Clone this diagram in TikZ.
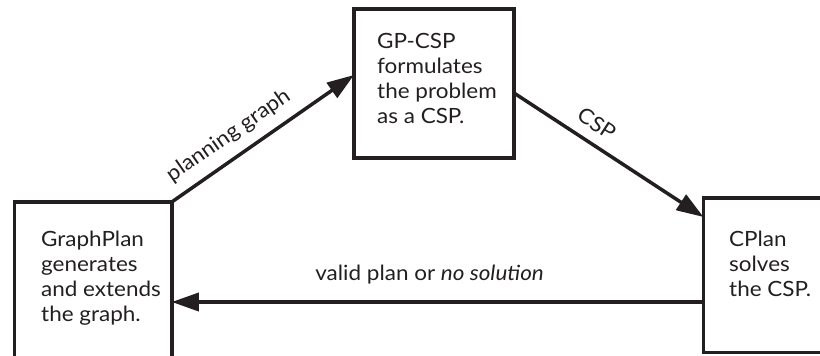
\documentclass[tikz,border=0pt]{standalone}
\usepackage{fontspec}
\setmainfont{Lato}[FakeStretch=1.07]
\usetikzlibrary{arrows.meta,calc}
\definecolor{ink}{HTML}{231F20}
\begin{document}
\begin{tikzpicture}[x=1pt,y=-1pt,
  box/.style={draw=ink, line width=3.5pt, inner sep=0pt, outer sep=0pt, anchor=north west},
  boxtext/.style={anchor=base west, align=left, inner sep=0pt, text=ink,
    font=\fontsize{21}{25}\selectfont},
  flow/.style={draw=ink, line width=3.5pt, -{Triangle[length=27pt,width=18pt]}},
  lbl/.style={text=ink, inner sep=0pt, font=\fontsize{21}{25}\selectfont}]
\useasboundingbox (0,0) rectangle (820,356);
\clip (0,0) rectangle (820,356);

% the three stages
\node[box, minimum width=157.5pt, minimum height=180pt] (gp)  at (14.25,202) {};
\node[box, minimum width=160pt,   minimum height=149pt] (csp) at (354,9) {};
\node[box, minimum width=150pt,   minimum height=154.5pt] (cp) at (703.5,198) {};

% texts are anchored at the baseline of their last line
\node[boxtext] (gptext)  at (41,321.7)  {GraphPlan\\generates\\and extends\\the graph.};
\node[boxtext] (csptext) at (377,123)   {GP-CSP\\formulates\\the problem\\as a CSP.};
\node[boxtext] (cptext)  at (729,296.7) {CPlan\\solves\\the CSP.};

% hand-offs between the stages
\draw[flow] (gp.north east) -- ($(csp.north west)+(0,66)$)
  node[lbl, sloped, anchor=base, pos=0.38, yshift=16pt] (pglabel) {planning graph};
\draw[flow] ($(csp.north east)+(0,84)$) -- ($(cp.north west)+(0,19)$)
  node[lbl, sloped, anchor=base, pos=0.38, yshift=12pt] (csplabel) {CSP};
\draw[flow] ($(cp.north west)+(0,104)$) -- ($(gp.north east)+(0,100)$)
  node[lbl, anchor=base, pos=0.5, yshift=22pt, xshift=-8pt] (retlabel) {valid plan or \textit{no solution}};
\end{tikzpicture}
\end{document}
